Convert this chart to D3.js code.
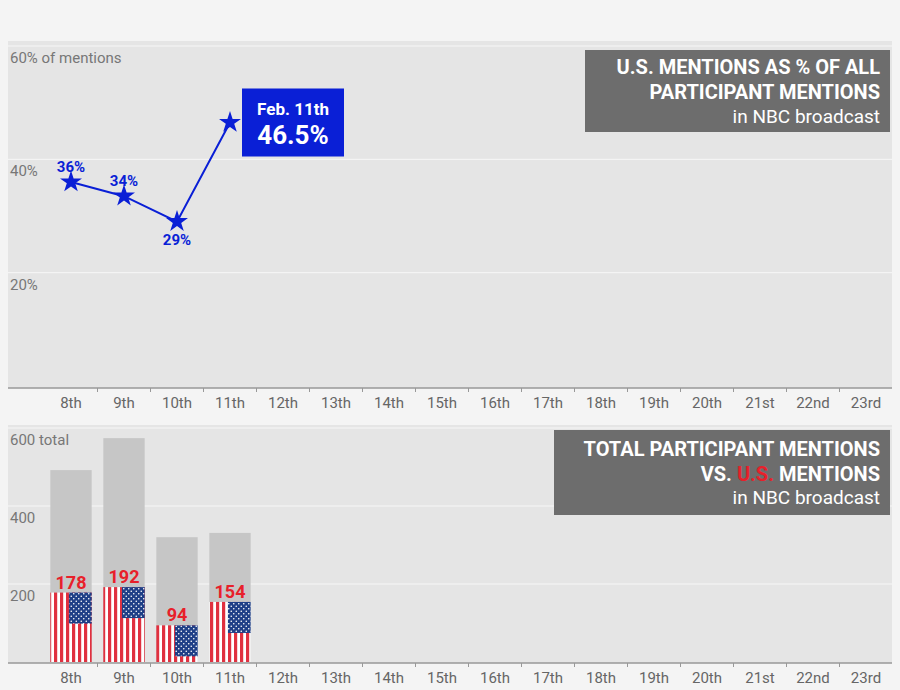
<!DOCTYPE html>
<html><head><meta charset="utf-8">
<script src="https://cdn.jsdelivr.net/npm/d3@7"></script>
<style>body{margin:0;background:#f4f4f4;font-family:Roboto,"Noto Sans",sans-serif}</style>
</head><body><svg id="c" width="900" height="690"></svg>
<script>
const days = ["8th","9th","10th","11th","12th","13th","14th","15th","16th","17th","18th","19th","20th","21st","22nd","23rd"];
const pctDays = ["8th","9th","10th","11th"];
const pctValues = [36, 33.5, 29, 46.5];
const pctLabels = ["36%","34%","29%",""];
const totalValues = [492, 574, 320, 331];
const usValues = [178, 192, 94, 154];
const pctTicks = [20, 40, 60];
const totTicks = [200, 400, 600];

const svg = d3.select("#c");
const defs = svg.append("defs");
const sp = defs.append("pattern").attr("id","stripes").attr("patternUnits","userSpaceOnUse").attr("width",6).attr("height",10);
sp.append("rect").attr("width",6).attr("height",10).attr("fill","#fff");
sp.append("rect").attr("width",3.2).attr("height",10).attr("fill","#e0303f");
const dp = defs.append("pattern").attr("id","stars").attr("patternUnits","userSpaceOnUse").attr("width",5).attr("height",5);
dp.append("rect").attr("width",5).attr("height",5).attr("fill","#1f3f87");
dp.append("circle").attr("cx",1.25).attr("cy",1.25).attr("r",0.8).attr("fill","#fff");
dp.append("circle").attr("cx",3.75).attr("cy",3.75).attr("r",0.8).attr("fill","#fff");

const x = d3.scaleBand().domain(days).range([44.5, 892.5]).paddingInner(0.22).paddingOuter(0.11);
const xc = d => x(d) + x.bandwidth()/2;
const step = x.step();

function panel(top, bottom, y, ticks, tickFmt){
  svg.append("rect").attr("x",8).attr("y",top).attr("width",884).attr("height",bottom-top).attr("fill","#e5e5e5");
  ticks.forEach((t,i)=>{
    svg.append("line").attr("x1",8).attr("x2",892).attr("y1",y(t)).attr("y2",y(t)).attr("stroke","#f7f7f7").attr("stroke-width",1);
    svg.append("text").attr("x",10).attr("y",y(t)+17).attr("fill","#777").attr("font-size",15).text(tickFmt(t,i));
  });
  svg.append("line").attr("x1",8).attr("x2",892).attr("y1",bottom).attr("y2",bottom).attr("stroke","#999").attr("stroke-width",1.5);
  days.forEach((d,i)=>{
    svg.append("text").attr("x",xc(d)).attr("y",bottom+20).attr("text-anchor","middle").attr("fill","#666").attr("font-size",15).text(d);
    if(i>0){const tx = xc(d)-step/2; svg.append("line").attr("x1",tx).attr("x2",tx).attr("y1",bottom).attr("y2",bottom+4).attr("stroke","#999");}
  });
}
function titleBox(x0,y0,w,h,lines){
  svg.append("rect").attr("x",x0).attr("y",y0).attr("width",w).attr("height",h).attr("fill","#6d6d6d");
  lines.forEach(l=>{
    const t = svg.append("text").attr("x",x0+w-10).attr("y",l.y).attr("text-anchor","end").attr("fill","#fff").attr("font-size",l.size).attr("font-weight",l.bold?"bold":"normal");
    l.parts.forEach(p=>t.append("tspan").attr("fill",p.c||"#fff").text(p.t));
  });
}

// Top panel
const y1 = d3.scaleLinear().domain([0,60]).range([386,46]);
panel(41, 388, y1, pctTicks, (t,i)=> i===2 ? "60% of mentions" : t+"%");
titleBox(585,50,305,82,[
  {y:74,size:20,bold:true,parts:[{t:"U.S. MENTIONS AS % OF ALL"}]},
  {y:99,size:20,bold:true,parts:[{t:"PARTICIPANT MENTIONS"}]},
  {y:123,size:19,parts:[{t:"in NBC broadcast"}]}]);
const blue = "#0a1fd6";
const line = d3.line().x((d,i)=>xc(pctDays[i])).y(d=>y1(d));
svg.append("path").attr("d",line(pctValues)).attr("fill","none").attr("stroke",blue).attr("stroke-width",2);
const star = d3.symbol().type(d3.symbolStar).size(150);
pctValues.forEach((v,i)=>{
  svg.append("path").attr("d",star()).attr("transform",`translate(${xc(pctDays[i])},${y1(v)})`).attr("fill",blue);
  if(pctLabels[i]){
    const below = i===2;
    svg.append("text").attr("x",xc(pctDays[i])).attr("y",y1(v)+(below?23:-10)).attr("text-anchor","middle").attr("fill",blue).attr("font-size",15).attr("font-weight","bold").text(pctLabels[i]);
  }
});
const lx = xc("11th")+12, ly = y1(46.5)-34;
svg.append("rect").attr("x",lx).attr("y",ly).attr("width",102).attr("height",68).attr("fill",blue);
svg.append("text").attr("x",lx+51).attr("y",ly+26).attr("text-anchor","middle").attr("fill","#fff").attr("font-size",17).attr("font-weight","bold").text("Feb. 11th");
svg.append("text").attr("x",lx+51).attr("y",ly+55).attr("text-anchor","middle").attr("fill","#fff").attr("font-size",26).attr("font-weight","bold").text(pctValues[3]+"%");

// Bottom panel
const y2 = d3.scaleLinear().domain([0,600]).range([662,428]);
panel(425, 663, y2, totTicks, (t,i)=> i===2 ? "600 total" : t);
titleBox(554,430,336,85,[
  {y:456,size:20,bold:true,parts:[{t:"TOTAL PARTICIPANT MENTIONS"}]},
  {y:481,size:20,bold:true,parts:[{t:"VS. "},{t:"U.S.",c:"#e8202a"},{t:" MENTIONS"}]},
  {y:504,size:19,parts:[{t:"in NBC broadcast"}]}]);
totalValues.forEach((v,i)=>{
  const d = pctDays[i], bx = x(d), bw = x.bandwidth();
  svg.append("rect").attr("x",bx).attr("y",y2(v)).attr("width",bw).attr("height",y2(0)-y2(v)).attr("fill","#c6c6c6");
  const u = usValues[i];
  svg.append("rect").attr("x",bx).attr("y",y2(u)).attr("width",bw).attr("height",y2(0)-y2(u)).attr("fill","url(#stripes)");
  svg.append("rect").attr("x",bx+bw*0.45).attr("y",y2(u)).attr("width",bw*0.55).attr("height",31).attr("fill","url(#stars)");
  svg.append("text").attr("x",xc(d)).attr("y",y2(u)-4).attr("text-anchor","middle").attr("fill","#e8202a").attr("font-size",18).attr("font-weight","bold").text(u);
});
</script></body></html>
